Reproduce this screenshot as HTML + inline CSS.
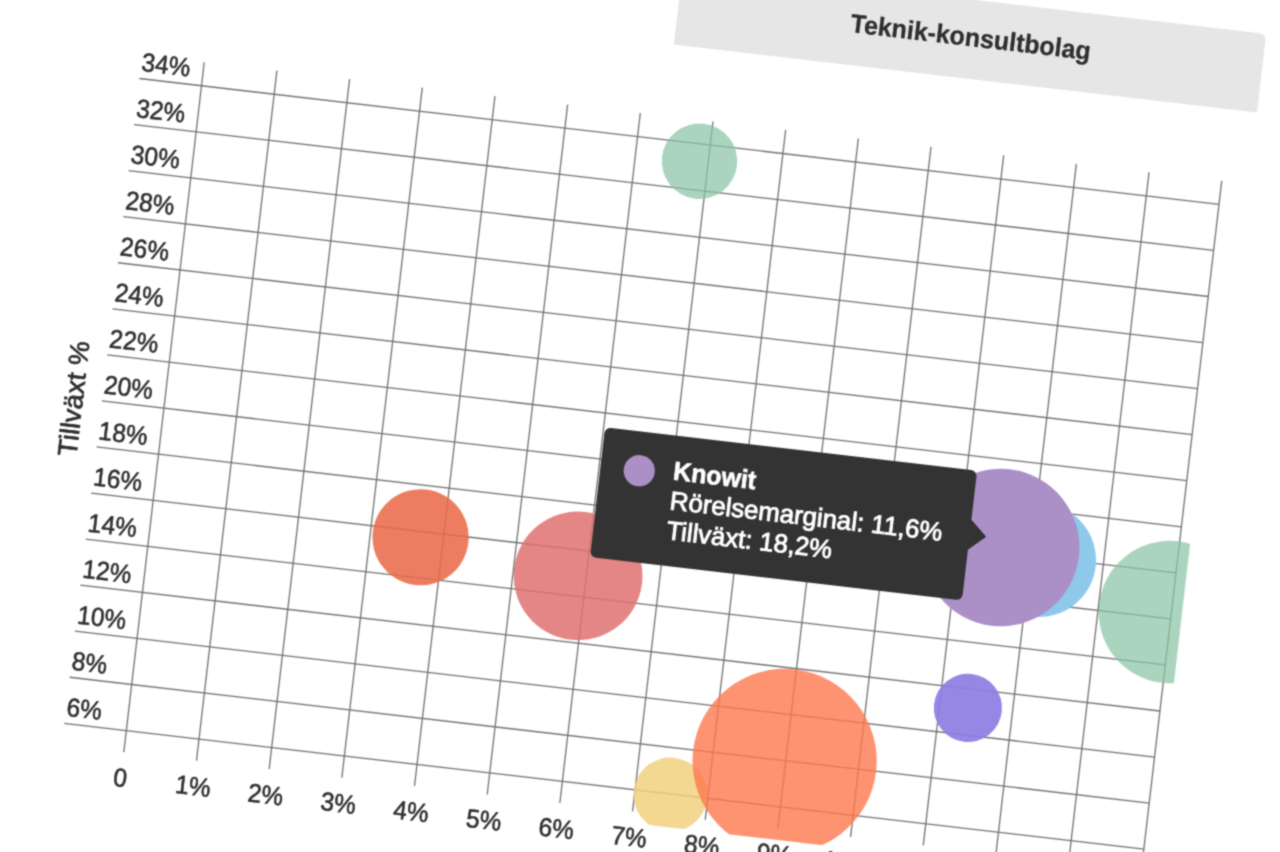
<!DOCTYPE html>
<html lang="sv"><head><meta charset="utf-8"><title>Teknik-konsultbolag</title>
<style>
html,body{margin:0;padding:0;background:#fff}
body{width:1280px;height:852px;overflow:hidden;position:relative}
svg{display:block;position:absolute;left:0;top:0}
text{font-family:"Liberation Sans",sans-serif}
.ax{font-size:26px;fill:#303030;stroke:#303030;stroke-width:0.6px}
.g line{stroke:#727272;stroke-width:1.3}
.tt text{font-size:26px;fill:#fff;stroke:#fff}
</style></head><body>
<svg width="1280" height="852" viewBox="0 0 1280 852">
<defs><clipPath id="area"><rect x="-40" y="-40" width="1075.0" height="722.5"/></clipPath>
<filter id="soft" filterUnits="userSpaceOnUse" x="0" y="0" width="1280" height="852" color-interpolation-filters="sRGB"><feConvolveMatrix order="3" kernelMatrix="1 3 1 3 9 3 1 3 1" divisor="25" edgeMode="duplicate" preserveAlpha="false"/></filter></defs>
<g filter="url(#soft)">
<rect x="0" y="0" width="1280" height="852" fill="#fff"/>
<g transform="translate(201.5,85.75) rotate(6.65)">
<g class="bl">
<path d="M464.4,-95.6 V-168.8 a6,6 0 0 1 6,-6 H1045.5 a6,6 0 0 1 6,6 V-95.6 Z" fill="#e6e6e6"/>
<text x="758.5" y="-128.4" text-anchor="middle" font-size="26" font-weight="bold" fill="#2e2e2e" stroke="#2e2e2e" stroke-width="0.3" textLength="241.5" lengthAdjust="spacingAndGlyphs">Teknik-konsultbolag</text>
</g>
<g class="g">
<line x1="0.00" y1="-23.7" x2="0.00" y2="670.9"/>
<line x1="73.17" y1="-23.7" x2="73.17" y2="670.9"/>
<line x1="146.34" y1="-23.7" x2="146.34" y2="670.9"/>
<line x1="219.51" y1="-23.7" x2="219.51" y2="670.9"/>
<line x1="292.68" y1="-23.7" x2="292.68" y2="670.9"/>
<line x1="365.85" y1="-23.7" x2="365.85" y2="670.9"/>
<line x1="439.02" y1="-23.7" x2="439.02" y2="670.9"/>
<line x1="512.19" y1="-23.7" x2="512.19" y2="670.9"/>
<line x1="585.36" y1="-23.7" x2="585.36" y2="670.9"/>
<line x1="658.53" y1="-23.7" x2="658.53" y2="670.9"/>
<line x1="731.70" y1="-23.7" x2="731.70" y2="670.9"/>
<line x1="804.87" y1="-23.7" x2="804.87" y2="670.9"/>
<line x1="878.04" y1="-23.7" x2="878.04" y2="670.9"/>
<line x1="951.21" y1="-23.7" x2="951.21" y2="670.9"/>
<line x1="1024.38" y1="-23.7" x2="1024.38" y2="670.9"/>
<line x1="-62.5" y1="0.00" x2="1024.38" y2="0.00"/>
<line x1="-62.5" y1="46.37" x2="1024.38" y2="46.37"/>
<line x1="-62.5" y1="92.74" x2="1024.38" y2="92.74"/>
<line x1="-62.5" y1="139.11" x2="1024.38" y2="139.11"/>
<line x1="-62.5" y1="185.48" x2="1024.38" y2="185.48"/>
<line x1="-62.5" y1="231.85" x2="1024.38" y2="231.85"/>
<line x1="-62.5" y1="278.22" x2="1024.38" y2="278.22"/>
<line x1="-62.5" y1="324.59" x2="1024.38" y2="324.59"/>
<line x1="-62.5" y1="370.96" x2="1024.38" y2="370.96"/>
<line x1="-62.5" y1="417.33" x2="1024.38" y2="417.33"/>
<line x1="-62.5" y1="463.70" x2="1024.38" y2="463.70"/>
<line x1="-62.5" y1="510.07" x2="1024.38" y2="510.07"/>
<line x1="-62.5" y1="556.44" x2="1024.38" y2="556.44"/>
<line x1="-62.5" y1="602.81" x2="1024.38" y2="602.81"/>
<line x1="-62.5" y1="649.18" x2="1024.38" y2="649.18"/>
</g>
<g class="bl">
<text class="ax" transform="translate(-62,-7.8) scale(0.942,1)">34%</text>
<text class="ax" transform="translate(-62,38.6) scale(0.942,1)">32%</text>
<text class="ax" transform="translate(-62,84.9) scale(0.942,1)">30%</text>
<text class="ax" transform="translate(-62,131.3) scale(0.942,1)">28%</text>
<text class="ax" transform="translate(-62,177.7) scale(0.942,1)">26%</text>
<text class="ax" transform="translate(-62,224.0) scale(0.942,1)">24%</text>
<text class="ax" transform="translate(-62,270.4) scale(0.942,1)">22%</text>
<text class="ax" transform="translate(-62,316.8) scale(0.942,1)">20%</text>
<text class="ax" transform="translate(-62,363.2) scale(0.942,1)">18%</text>
<text class="ax" transform="translate(-62,409.5) scale(0.942,1)">16%</text>
<text class="ax" transform="translate(-62,455.9) scale(0.942,1)">14%</text>
<text class="ax" transform="translate(-62,502.3) scale(0.942,1)">12%</text>
<text class="ax" transform="translate(-62,548.6) scale(0.942,1)">10%</text>
<text class="ax" transform="translate(-62,595.0) scale(0.942,1)">8%</text>
<text class="ax" transform="translate(-62,641.4) scale(0.942,1)">6%</text>
<text class="ax" transform="translate(-0.5,705.5) scale(0.942,1)" text-anchor="middle">0</text>
<text class="ax" transform="translate(72.7,705.5) scale(0.942,1)" text-anchor="middle">1%</text>
<text class="ax" transform="translate(145.8,705.5) scale(0.942,1)" text-anchor="middle">2%</text>
<text class="ax" transform="translate(219.0,705.5) scale(0.942,1)" text-anchor="middle">3%</text>
<text class="ax" transform="translate(292.2,705.5) scale(0.942,1)" text-anchor="middle">4%</text>
<text class="ax" transform="translate(365.4,705.5) scale(0.942,1)" text-anchor="middle">5%</text>
<text class="ax" transform="translate(438.5,705.5) scale(0.942,1)" text-anchor="middle">6%</text>
<text class="ax" transform="translate(511.7,705.5) scale(0.942,1)" text-anchor="middle">7%</text>
<text class="ax" transform="translate(584.9,705.5) scale(0.942,1)" text-anchor="middle">8%</text>
<text class="ax" transform="translate(658.0,705.5) scale(0.942,1)" text-anchor="middle">9%</text>
<text class="ax" transform="translate(731.2,705.5) scale(0.942,1)" text-anchor="middle">10%</text>
<text class="ax" transform="translate(804.4,705.5) scale(0.942,1)" text-anchor="middle">11%</text>
<text class="ax" transform="translate(877.5,705.5) scale(0.942,1)" text-anchor="middle">12%</text>
<text class="ax" transform="translate(950.7,705.5) scale(0.942,1)" text-anchor="middle">13%</text>
<text class="ax" transform="translate(1023.9,705.5) scale(0.942,1)" text-anchor="middle">14%</text>
<text transform="translate(-81.5,325.5) rotate(-90)" text-anchor="middle" font-size="27" fill="#2e2e2e" stroke="#2e2e2e" stroke-width="0.7" textLength="115.4" lengthAdjust="spacingAndGlyphs">Tillväxt %</text>
</g>
<g class="bl"><g clip-path="url(#area)">
<circle cx="503.4" cy="17.3" r="37.75" fill="#89c3a5" fill-opacity="0.72"/>
<circle cx="269.9" cy="423.1" r="48.10" fill="#ea6a49" fill-opacity="0.87"/>
<circle cx="430.8" cy="443.2" r="64.40" fill="#e17171" fill-opacity="0.85"/>
<circle cx="1022.9" cy="410.6" r="71.30" fill="#89c3a5" fill-opacity="0.72"/>
<circle cx="886.8" cy="374.1" r="57.00" fill="#8ec9ec" fill-opacity="1"/>
<circle cx="547.9" cy="649.8" r="37.00" fill="#f0d17e" fill-opacity="0.85"/>
<circle cx="657.4" cy="603.1" r="92.10" fill="#fe784e" fill-opacity="0.8"/>
<circle cx="833.3" cy="529.2" r="34.10" fill="#8f7ee3" fill-opacity="0.93"/>
<circle cx="847.3" cy="366.1" r="78.75" fill="#ab90c8" fill-opacity="1"/>
</g></g>
<g class="bl tt">
<path d="M446.4,292.6 H809 a6,6 0 0 1 6,6 V342 L831.6,357 L815,372 V417.2 a6,6 0 0 1 -6,6 H446.4 a6,6 0 0 1 -6,-6 V298.6 a6,6 0 0 1 6,-6 Z" fill="#333"/>
<circle cx="479.4" cy="331.7" r="15.6" fill="#ab90c8"/>
<text x="513.5" y="336.6" font-weight="bold" stroke-width="0.7" textLength="83" lengthAdjust="spacingAndGlyphs">Knowit</text>
<text x="513.5" y="366.4" stroke-width="0.9" textLength="274" lengthAdjust="spacingAndGlyphs">Rörelsemarginal: 11,6%</text>
<text x="513.5" y="396.5" stroke-width="0.9" textLength="166.6" lengthAdjust="spacingAndGlyphs">Tillväxt: 18,2%</text>
</g>
</g></g></svg>
</body></html>
